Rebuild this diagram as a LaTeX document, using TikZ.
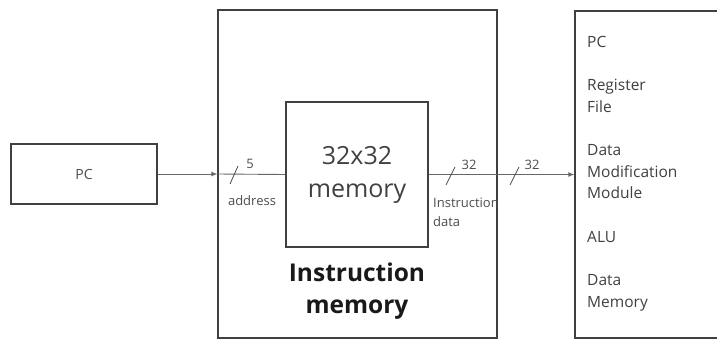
\documentclass[tikz,border=0pt]{standalone}
\usepackage{fontspec}
\setmainfont{Open Sans}
\usetikzlibrary{positioning,arrows.meta}

\tikzset{
  block/.style={draw=black!75, line width=1.3pt},
  wire/.style={draw=black!60, line width=0.9pt},
  busmark/.style={draw=black!70, line width=0.8pt},
  small/.style={text=black!70, font=\fontsize{13}{15}\selectfont, inner sep=0pt}
}

\begin{document}
\begin{tikzpicture}[x=1pt, y=-1pt]
  \useasboundingbox (0,0) rectangle (717,340);

  \node (pc) [block, minimum width=146pt, minimum height=60pt, text=black!70,
    font=\fontsize{14}{16}\selectfont] at (84,174) {PC};
  \node (imem) [block, minimum width=279pt, minimum height=328pt] at (357.5,174) {};
  \node (mem) [block, minimum width=142pt, minimum height=145pt, align=center,
    text=black!75, font=\fontsize{25}{33}\selectfont] at (357,174.5) {32x32\\memory};
  \node (imemlabel) [font=\bfseries\fontsize{24.5}{32}\selectfont, align=center,
    text=black!90] at (357,291) {Instruction\\memory};
  \node (units) [block, minimum width=220pt, minimum height=327pt] at (685,174.5) {};
  \node (unitlist) [anchor=north west, align=left, text=black!75, inner sep=0pt,
    font=\fontsize{15.5}{21.7}\selectfont] at (587,36)
    {PC\\[21.5pt] Register\\File\\[21.5pt] Data\\Modification\\Module\\[21.5pt]
     ALU\\[21.5pt] Data\\Memory};

  % connectors
  \draw [wire, -{Latex[length=6pt,width=5pt]}] (pc) -- (imem.west);
  \draw [wire] (imem.west) -- (mem.west);
  \draw [wire, -{Latex[length=6pt,width=5pt]}] (mem.east) -- (units.west);

  % bus width marks
  \draw [busmark] (230,184) -- (238,166);
  \draw [busmark] (446,185) -- (455,167);
  \draw [busmark] (510,185) -- (519,167);
  \node (w5) [small] at (250,164) {5};
  \node (w32a) [small] at (469,165) {32};
  \node (w32b) [small] at (532,165) {32};
  \node (addr) [small] at (252,201) {address};
  \node (idata) [small, anchor=west, align=left, font=\fontsize{13}{19}\selectfont]
    at (433,212.5) {Instruction\\data};
\end{tikzpicture}
\end{document}
